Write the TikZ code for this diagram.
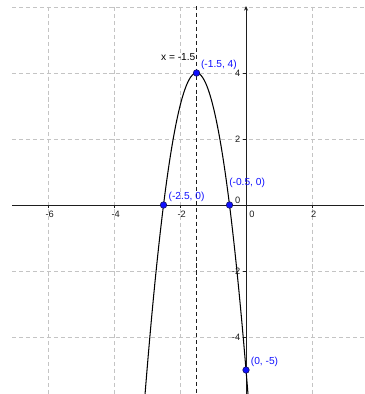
\documentclass[tikz,border=0pt]{standalone}
\usepackage{fontspec}
\setmainfont{Liberation Sans}
\usetikzlibrary{arrows.meta}
\definecolor{ink}{HTML}{1E1E1E}
\definecolor{gridgray}{HTML}{C4C4C4}
\definecolor{ptblue}{HTML}{1010FF}
\definecolor{ptrim}{HTML}{101060}
\tikzset{
  gridln/.style={gridgray, line width=0.7pt, dash pattern=on 3.5pt off 2.5pt},
  axisln/.style={ink, line width=0.8pt},
  curve/.style={black, line width=0.9pt},
  symln/.style={ink, line width=0.8pt, dash pattern=on 3.5pt off 2.5pt},
  pt/.style={circle, fill=ptblue, draw=ptrim, line width=0.5pt, inner sep=0pt, minimum size=5.6pt},
  ptlab/.style={font=\fontsize{8.8}{10}\selectfont, text=ptblue, anchor=west, inner sep=0pt},
  ticklab/.style={font=\fontsize{8}{9}\selectfont, text=ink, inner sep=0pt},
}

\begin{document}
\begin{tikzpicture}
  \useasboundingbox (-7.455,-5.727) rectangle (3.576,6.212);
  % grid
  \foreach \x in {-6,-4,-2,2}
    \draw[gridln] (\x,6) -- (\x,-5.727);
  \foreach \y in {6,4,2,-2,-4}
    \draw[gridln] (-7.09,\y) -- (3.576,\y);
  % axes
  \draw[axisln] (-7.09,0) -- (3.576,0);
  \draw[axisln,-{Stealth[length=4pt,width=3.5pt]}] (0,-5.727) -- (0,6.03);
  \foreach \x in {-6,-4,-2,2} {
    \draw[axisln] (\x,0) -- (\x,-0.09);
    \node[ticklab] at (\x+0.05,-0.27) {\x};
  }
  \foreach \y in {4,2,-2,-4} {
    \draw[axisln] (0,\y) -- (-0.09,\y);
    \node[ticklab,anchor=east] at (-0.17,\y) {\y};
  }
  \node[ticklab] at (0.18,-0.27) {0};
  \node[ticklab,anchor=east] at (-0.17,0.15) {0};
  % axis of symmetry
  \draw[symln] (-1.5,6.03) -- (-1.5,-5.727);
  \node[font=\fontsize{8.8}{10}\selectfont, text=black, anchor=west, inner sep=0pt] (symlab) at (-2.58,4.49) {x = -1.5};
  % parabola
  \begin{scope}
    \clip (-7.455,-5.727) rectangle (3.576,6.212);
    \draw[curve, domain=-3.08:0.08, samples=120, smooth] plot (\x, {-4*(\x+1.5)^2+4});
  \end{scope}
  % points
  \node[pt] (vtx) at (-1.5,4) {};
  \node[pt] (rootl) at (-2.5,0) {};
  \node[pt] (rootr) at (-0.5,0) {};
  \node[pt] (yint) at (0,-5) {};
  \node[ptlab] (vtxlab) at (-1.37,4.26) {(-1.5, 4)};
  \node[ptlab] (rootllab) at (-2.35,0.25) {(-2.5, 0)};
  \node[ptlab] (rootrlab) at (-0.515,0.66) {(-0.5, 0)};
  \node[ptlab] (yintlab) at (0.14,-4.75) {(0, -5)};
\end{tikzpicture}
\end{document}
